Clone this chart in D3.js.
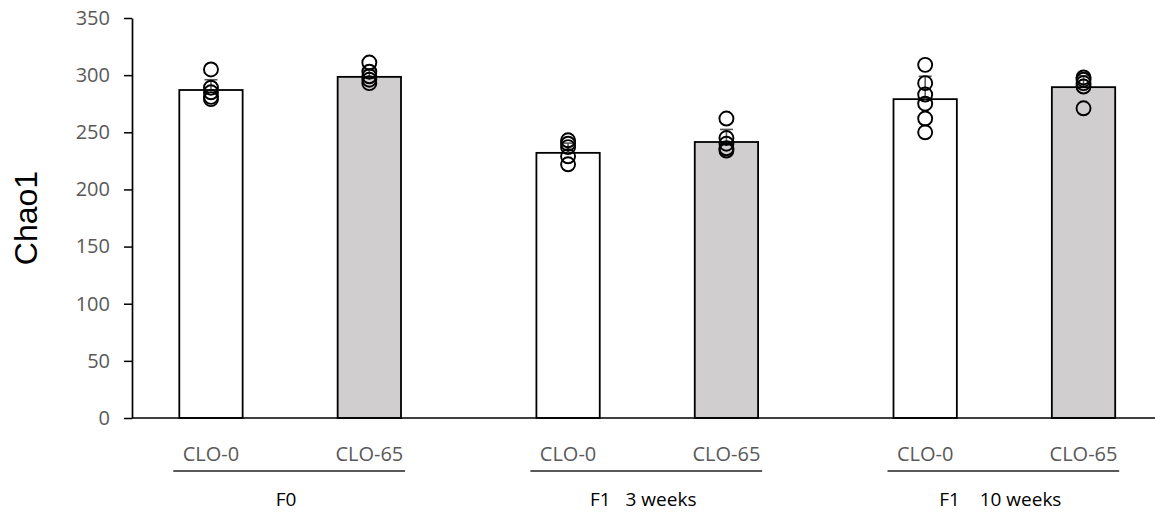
<!DOCTYPE html>
<html>
<head>
<meta charset="utf-8">
<script src="https://cdn.jsdelivr.net/npm/d3@7/dist/d3.min.js"></script>
<style>
  html, body { margin: 0; padding: 0; background: #fff; }
  svg { display: block; }
  .group-label { white-space: pre; }
</style>
</head>
<body>
<div id="chart"></div>
<script>
const groups = ['F0', 'F1   3 weeks', 'F1    10 weeks'];
const treatments = ['CLO-0', 'CLO-65'];
const yTicks = [0, 50, 100, 150, 200, 250, 300, 350];

// bar heights (mean) and upper error bar
const means = [287, 298.5, 232, 241.5, 279, 289.5];
const errors = [9, 6, 8.5, 11, 20, 10];

// individual samples per bar
const points = [
  [305, 289, 285, 281, 279],
  [311, 303, 299, 296, 293],
  [243, 240, 237, 229, 222],
  [262, 245, 240, 236, 234],
  [309, 293, 283, 275, 262, 250],
  [298, 296, 293, 290, 271]
];

const width = 1155;
const height = 513;
const axisX = 132;

const svg = d3.select('#chart')
  .append('svg')
  .attr('width', width)
  .attr('height', height);

const y = d3.scaleLinear()
  .domain([0, 350])
  .range([418, 18]);

const xGroup = d3.scaleBand()
  .domain(groups)
  .range([111.7, 1183])
  .padding(0);

const xInner = d3.scaleBand()
  .domain(treatments)
  .range([67.6, 289.3])
  .paddingInner(0.6)
  .paddingOuter(0);

const fills = { 'CLO-0': '#ffffff', 'CLO-65': '#d0cece' };

const bars = [];
groups.forEach((g, gi) => {
  treatments.forEach((t, ti) => {
    const i = gi * treatments.length + ti;
    bars.push({ group: g, treatment: t, mean: means[i], err: errors[i], pts: points[i] });
  });
});

const barLeft = d => xGroup(d.group) + xInner(d.treatment);
const barMid = d => barLeft(d) + xInner.bandwidth() / 2;

// y axis
const yAxis = d3.axisLeft(y)
  .tickValues(yTicks)
  .tickSize(8)
  .tickPadding(14)
  .tickSizeOuter(0);

const gy = svg.append('g')
  .attr('transform', `translate(${axisX},0)`)
  .call(yAxis);
gy.select('.domain').attr('stroke', '#000').attr('stroke-width', 1.7);
gy.selectAll('.tick line').attr('stroke', '#000').attr('stroke-width', 1.5);
gy.selectAll('.tick text')
  .attr('fill', '#595959')
  .style('font-family', '"Open Sans", sans-serif')
  .style('font-size', '20px');

svg.append('text')
  .attr('transform', `translate(37,${(y(0) + y(350)) / 2}) rotate(-90)`)
  .attr('text-anchor', 'middle')
  .style('font-family', '"Liberation Sans", Arial, sans-serif')
  .style('font-size', '32px')
  .attr('fill', '#000')
  .text('Chao1');

// bars
svg.selectAll('.bar')
  .data(bars)
  .enter()
  .append('rect')
  .attr('class', 'bar')
  .attr('x', barLeft)
  .attr('y', d => y(d.mean))
  .attr('width', xInner.bandwidth())
  .attr('height', d => y(0) - y(d.mean))
  .attr('fill', d => fills[d.treatment])
  .attr('stroke', '#000')
  .attr('stroke-width', 1.8);

// x axis line
svg.append('line')
  .attr('x1', axisX)
  .attr('x2', width)
  .attr('y1', y(0))
  .attr('y2', y(0))
  .attr('stroke', '#000')
  .attr('stroke-width', 1.7);

// error bars (upper only)
const eb = svg.selectAll('.err')
  .data(bars)
  .enter()
  .append('g')
  .attr('class', 'err')
  .attr('stroke', '#595959')
  .attr('stroke-width', 1.6);
eb.append('line')
  .attr('x1', barMid).attr('x2', barMid)
  .attr('y1', d => y(d.mean))
  .attr('y2', d => y(d.mean + d.err));
eb.append('line')
  .attr('x1', d => barMid(d) - 6.5).attr('x2', d => barMid(d) + 6.5)
  .attr('y1', d => y(d.mean + d.err))
  .attr('y2', d => y(d.mean + d.err));

// sample points
const dots = [];
bars.forEach(b => b.pts.forEach(v => dots.push({ bar: b, v })));
svg.selectAll('.dot')
  .data(dots)
  .enter()
  .append('circle')
  .attr('class', 'dot')
  .attr('cx', d => barMid(d.bar))
  .attr('cy', d => y(d.v))
  .attr('r', 7)
  .attr('fill', 'none')
  .attr('stroke', '#000')
  .attr('stroke-width', 1.9);

// category labels
svg.selectAll('.cat')
  .data(bars)
  .enter()
  .append('text')
  .attr('class', 'cat')
  .attr('x', barMid)
  .attr('y', 461)
  .attr('text-anchor', 'middle')
  .attr('fill', '#595959')
  .style('font-family', '"Open Sans", sans-serif')
  .style('font-size', '20px')
  .text(d => d.treatment);

// group underlines and labels
const gg = svg.selectAll('.grp')
  .data(groups)
  .enter()
  .append('g')
  .attr('class', 'grp');
gg.append('line')
  .attr('x1', d => xGroup(d) + xInner.range()[0] - 6)
  .attr('x2', d => xGroup(d) + xInner.range()[1] + 4)
  .attr('y1', 471)
  .attr('y2', 471)
  .attr('stroke', '#222')
  .attr('stroke-width', 1.6);
gg.append('text')
  .attr('class', 'group-label')
  .attr('x', d => xGroup(d) + (xInner.range()[0] + xInner.range()[1]) / 2 - 4)
  .attr('y', 506)
  .attr('text-anchor', 'middle')
  .attr('fill', '#000')
  .style('font-family', '"Open Sans", sans-serif')
  .style('font-size', '19px')
  .text(d => d);
</script>
</body>
</html>
